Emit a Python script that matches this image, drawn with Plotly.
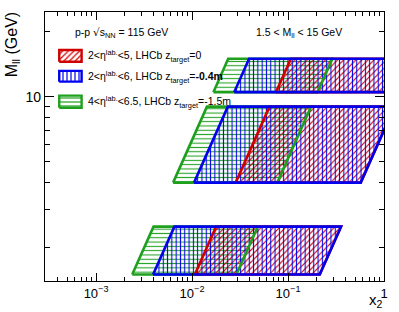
import plotly.graph_objects as go

# Mass bands (GeV)
m_low = [1.5, 4.0, 10.5]
m_high = [2.5, 9.0, 15.0]

# x2 corners, per band: bottom-left, bottom-right, top-left, top-right
green_bl = [0.00238, 0.00635, 0.0167]
green_br = [0.0290, 0.0774, 0.203]
green_tl = [0.00397, 0.0143, 0.0238]
green_tr = [0.0484, 0.174, 0.290]

blue_bl = [0.00393, 0.0105, 0.0275]
blue_br = [0.214, 0.572, 1.50]
blue_tl = [0.00655, 0.0236, 0.0393]
blue_tr = [0.357, 1.287, 2.14]

red_bl = [0.0107, 0.0285, 0.0748]
red_br = [0.214, 0.572, 1.50]
red_tl = [0.0178, 0.0641, 0.107]
red_tr = [0.357, 1.287, 2.14]

labels = [
    "2<η<sup>lab.</sup><5, LHCb z<sub>target</sub>=0",
    "2<η<sup>lab.</sup><6, LHCb z<sub>target</sub>=<b>-0.4m</b>",
    "4<η<sup>lab.</sup><6.5, LHCb z<sub>target</sub>=-1.5m",
]

x_major = [1e-3, 1e-2, 1e-1, 1.0]
x_major_text = ["10<sup>−3</sup>", "10<sup>−2</sup>", "10<sup>−1</sup>", "1"]
x_minor = [k * 10.0 ** e for e in (-4, -3, -2, -1) for k in range(2, 10) if k * 10.0 ** e > 2.9e-4]
y_major = [10]
y_major_text = ["10"]
y_minor = [2, 3, 4, 5, 6, 7, 8, 9, 20]

RED = "#d10000"
BLUE = "#0000ee"
GREEN = "#1ea01e"

sets = [
    ("green", GREEN, "-", green_bl, green_br, green_tl, green_tr),
    ("red", RED, "/", red_bl, red_br, red_tl, red_tr),
    ("blue", BLUE, "|", blue_bl, blue_br, blue_tl, blue_tr),
]

fig = go.Figure()

# hatched fills
for name, col, shape, bl, br, tl, tr in sets:
    for i in range(3):
        fig.add_trace(go.Scatter(
            x=[bl[i], br[i], tr[i], tl[i], bl[i]],
            y=[m_low[i], m_low[i], m_high[i], m_high[i], m_low[i]],
            mode="lines", fill="toself", fillcolor="rgba(0,0,0,0)",
            fillpattern=dict(shape=shape, fgcolor=col, bgcolor="rgba(0,0,0,0)",
                             size=4.3, solidity=0.25, fgopacity=1),
            line=dict(width=0), showlegend=False, hoverinfo="skip"))
# outlines
for name, col, shape, bl, br, tl, tr in sets:
    for i in range(3):
        fig.add_trace(go.Scatter(
            x=[bl[i], br[i], tr[i], tl[i], bl[i]],
            y=[m_low[i], m_low[i], m_high[i], m_high[i], m_low[i]],
            mode="lines", line=dict(color=col, width=2.6),
            showlegend=False, hoverinfo="skip"))

# dummy trace for minor-tick axes
fig.add_trace(go.Scatter(x=[1e-3], y=[10], xaxis="x2", yaxis="y2", mode="lines",
                         showlegend=False, hoverinfo="skip"))

# legend boxes on helper axes (fraction of plot area)
box_x = [0.042, 0.108]
box_y = [(0.815, 0.859), (0.741, 0.781), (0.644, 0.689)]
leg_cols = [RED, BLUE, GREEN]
leg_shapes = ["/", "|", "-"]
for (y0, y1), col, sh in zip(box_y, leg_cols, leg_shapes):
    fig.add_trace(go.Scatter(
        x=[box_x[0], box_x[1], box_x[1], box_x[0], box_x[0]],
        y=[y0, y0, y1, y1, y0], xaxis="x3", yaxis="y3",
        mode="lines", fill="toself", fillcolor="rgba(0,0,0,0)",
        fillpattern=dict(shape=sh, fgcolor=col, bgcolor="rgba(0,0,0,0)",
                         size=4, solidity=0.3, fgopacity=1),
        line=dict(color=col, width=2.4), showlegend=False, hoverinfo="skip"))

FONT = "Liberation Sans, Arial, sans-serif"
xr = [-3.532, 0.0]
yr = [0.1461, 1.3927]

fig.update_layout(
    width=399, height=312,
    margin=dict(l=45, r=11, t=11, b=31),
    paper_bgcolor="white", plot_bgcolor="white",
    font=dict(family=FONT, size=13, color="black"),
    xaxis=dict(type="log", range=xr, tickvals=x_major, ticktext=x_major_text,
               ticks="inside", ticklen=8, tickwidth=1, tickcolor="black",
               showline=True, linecolor="black", linewidth=1.2, mirror="ticks",
               showgrid=False, zeroline=False, tickfont=dict(size=13)),
    yaxis=dict(type="log", range=yr, tickvals=y_major, ticktext=y_major_text,
               ticks="inside", ticklen=9, tickwidth=1, tickcolor="black",
               showline=True, linecolor="black", linewidth=1.2, mirror="ticks",
               showgrid=False, zeroline=False, tickfont=dict(size=14)),
    xaxis2=dict(type="log", range=xr, overlaying="x", anchor="y2", tickvals=x_minor,
                showticklabels=False, ticks="inside", ticklen=4, tickwidth=1,
                tickcolor="black", mirror="ticks", showline=False, showgrid=False,
                zeroline=False),
    yaxis2=dict(type="log", range=yr, overlaying="y", anchor="x2", tickvals=y_minor,
                showticklabels=False, ticks="inside", ticklen=5, tickwidth=1,
                tickcolor="black", mirror="ticks", showline=False, showgrid=False,
                zeroline=False),
    xaxis3=dict(range=[0, 1], overlaying="x", anchor="y3", visible=False),
    yaxis3=dict(range=[0, 1], overlaying="y", anchor="x3", visible=False),
)

anns = [
    dict(text="p-p <span style='font-family:DejaVu Sans'>√</span>s<sub>NN</sub> = 115 GeV",
         x=(122 - 45) / 343, y=1 - (32 - 11) / 270,
         xanchor="center", yanchor="middle", font=dict(size=10.5)),
    dict(text="1.5 < M<sub>ll</sub> < 15 GeV", x=(302 - 45) / 343, y=1 - (32 - 11) / 270,
         xanchor="center", yanchor="middle", font=dict(size=10.5)),
    dict(text="M<sub>ll</sub> (GeV)", x=(12 - 45) / 343, y=1 - (44 - 11) / 270,
         xanchor="center", yanchor="middle", textangle=-90, font=dict(size=16)),
    dict(text="x<sub>2</sub>", x=(380 - 45) / 343, y=-(301 - 281) / 270,
         xanchor="center", yanchor="middle", font=dict(size=15)),
]
for lab, yc in zip(labels, [55, 76, 101]):
    anns.append(dict(text=lab, x=(86 - 45) / 343, y=1 - (yc - 11) / 270,
                     xanchor="left", yanchor="middle", font=dict(size=10.5)))
for a in anns:
    a.update(xref="paper", yref="paper", showarrow=False)
fig.update_layout(annotations=anns)

fig.write_html("out.html", post_script="document.body.style.margin='0';",
               config={"displayModeBar": False})
